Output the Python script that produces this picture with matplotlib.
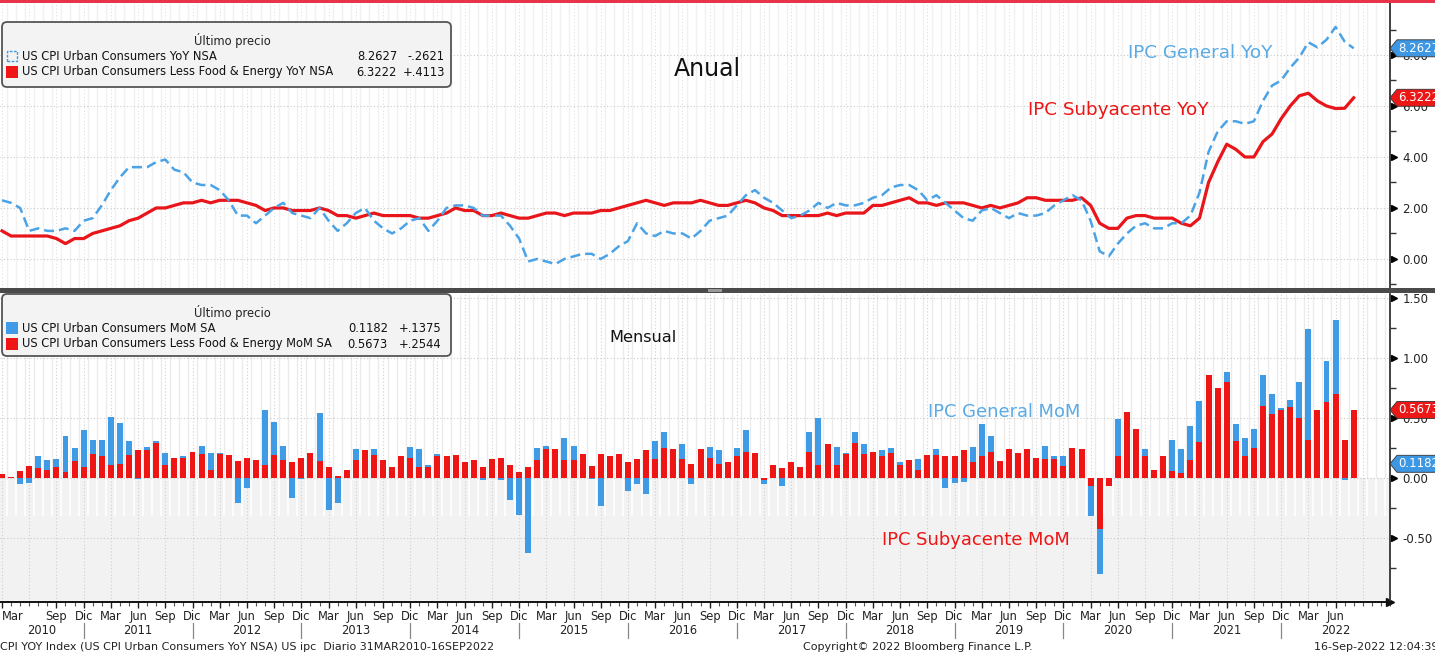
import numpy as np
import matplotlib
matplotlib.use('Agg')
import matplotlib.pyplot as plt
import matplotlib.transforms as mtransforms
from matplotlib.patches import FancyBboxPatch, Polygon, Rectangle

plt.rcParams['font.family'] = ['DejaVu Sans']

# ---------------- data (monthly, Mar 2010 .. Aug 2022) ----------------
yoy_headline = [
    2.3, 2.2, 2.0, 1.1, 1.2, 1.1, 1.1, 1.2, 1.1, 1.5,
    1.6, 2.1, 2.7, 3.2, 3.6, 3.6, 3.6, 3.8, 3.9, 3.5, 3.4, 3.0,
    2.9, 2.9, 2.7, 2.3, 1.7, 1.7, 1.4, 1.7, 2.0, 2.2, 1.8, 1.7,
    1.6, 2.0, 1.5, 1.1, 1.4, 1.8, 2.0, 1.5, 1.2, 1.0, 1.2, 1.5,
    1.6, 1.1, 1.5, 2.0, 2.1, 2.1, 2.0, 1.7, 1.7, 1.7, 1.3, 0.8,
    -0.1, 0.0, -0.1, -0.2, 0.0, 0.1, 0.2, 0.2, 0.0, 0.2, 0.5, 0.7,
    1.4, 1.0, 0.9, 1.1, 1.0, 1.0, 0.8, 1.1, 1.5, 1.6, 1.7, 2.1,
    2.5, 2.7, 2.4, 2.2, 1.9, 1.6, 1.7, 1.9, 2.2, 2.0, 2.2, 2.1,
    2.1, 2.2, 2.4, 2.5, 2.8, 2.9, 2.9, 2.7, 2.3, 2.5, 2.2, 1.9,
    1.6, 1.5, 1.9, 2.0, 1.8, 1.6, 1.8, 1.7, 1.7, 1.8, 2.1, 2.3,
    2.5, 2.3, 1.5, 0.3, 0.1, 0.6, 1.0, 1.3, 1.4, 1.2, 1.2, 1.4,
    1.4, 1.7, 2.6, 4.2, 5.0, 5.4, 5.4, 5.3, 5.4, 6.2, 6.8, 7.0,
    7.5, 7.9, 8.5, 8.3, 8.6, 9.1, 8.5248, 8.2627,
]
yoy_core = [
    1.1, 0.9, 0.9, 0.9, 0.9, 0.9, 0.8, 0.6, 0.8, 0.8,
    1.0, 1.1, 1.2, 1.3, 1.5, 1.6, 1.8, 2.0, 2.0, 2.1, 2.2, 2.2,
    2.3, 2.2, 2.3, 2.3, 2.3, 2.2, 2.1, 1.9, 2.0, 2.0, 1.9, 1.9,
    1.9, 2.0, 1.9, 1.7, 1.7, 1.6, 1.7, 1.8, 1.7, 1.7, 1.7, 1.7,
    1.6, 1.6, 1.7, 1.8, 2.0, 1.9, 1.9, 1.7, 1.7, 1.8, 1.7, 1.6,
    1.6, 1.7, 1.8, 1.8, 1.7, 1.8, 1.8, 1.8, 1.9, 1.9, 2.0, 2.1,
    2.2, 2.3, 2.2, 2.1, 2.2, 2.2, 2.2, 2.3, 2.2, 2.1, 2.1, 2.2,
    2.3, 2.2, 2.0, 1.9, 1.7, 1.7, 1.7, 1.7, 1.7, 1.8, 1.7, 1.8,
    1.8, 1.8, 2.1, 2.1, 2.2, 2.3, 2.4, 2.2, 2.2, 2.1, 2.2, 2.2,
    2.2, 2.1, 2.0, 2.1, 2.0, 2.1, 2.2, 2.4, 2.4, 2.3, 2.3, 2.3,
    2.3, 2.4, 2.1, 1.4, 1.2, 1.2, 1.6, 1.7, 1.7, 1.6, 1.6, 1.6,
    1.4, 1.3, 1.6, 3.0, 3.8, 4.5, 4.3, 4.0, 4.0, 4.6, 4.9, 5.5,
    6.0, 6.4, 6.5, 6.2, 6.0, 5.9, 5.9109, 6.3222,
]
mom_core = [
    0.03, 0.01, 0.06, 0.10, 0.08, 0.07, 0.09, 0.05, 0.14, 0.09,
    0.20, 0.18, 0.11, 0.12, 0.19, 0.23, 0.23, 0.29, 0.11, 0.17, 0.17, 0.22,
    0.20, 0.07, 0.20, 0.19, 0.14, 0.17, 0.15, 0.11, 0.19, 0.15, 0.13, 0.17,
    0.21, 0.14, 0.09, 0.02, 0.07, 0.15, 0.23, 0.19, 0.15, 0.09, 0.18, 0.17,
    0.09, 0.09, 0.18, 0.18, 0.19, 0.13, 0.15, 0.09, 0.16, 0.17, 0.11, 0.05,
    0.09, 0.15, 0.24, 0.24, 0.15, 0.15, 0.20, 0.10, 0.20, 0.18, 0.20, 0.13,
    0.16, 0.23, 0.16, 0.25, 0.24, 0.16, 0.12, 0.24, 0.17, 0.12, 0.13, 0.18,
    0.22, 0.21, -0.02, 0.11, 0.08, 0.13, 0.09, 0.22, 0.11, 0.28, 0.11, 0.20,
    0.29, 0.20, 0.22, 0.18, 0.21, 0.11, 0.15, 0.07, 0.19, 0.19, 0.18, 0.18,
    0.23, 0.13, 0.18, 0.22, 0.14, 0.24, 0.21, 0.24, 0.17, 0.16, 0.16, 0.10,
    0.25, 0.24, -0.07, -0.43, -0.07, 0.18, 0.55, 0.41, 0.18, 0.07, 0.18, 0.06,
    0.04, 0.15, 0.30, 0.86, 0.75, 0.80, 0.31, 0.18, 0.25, 0.60, 0.53, 0.57,
    0.59, 0.50, 0.32, 0.57, 0.63, 0.70, 0.3129, 0.5673,
]
mom_headline = [
    0.00, 0.00, -0.05, -0.04, 0.18, 0.15, 0.16, 0.35, 0.25, 0.40,
    0.32, 0.32, 0.51, 0.46, 0.31, -0.01, 0.26, 0.31, 0.21, 0.10, 0.18, 0.10,
    0.27, 0.21, 0.21, 0.10, -0.21, -0.08, 0.02, 0.57, 0.47, 0.27, -0.17, -0.01,
    0.15, 0.54, -0.27, -0.21, 0.05, 0.24, 0.20, 0.24, 0.10, 0.05, 0.15, 0.26,
    0.24, 0.11, 0.20, 0.15, 0.15, 0.10, 0.10, -0.02, 0.10, -0.02, -0.18, -0.31,
    -0.63, 0.25, 0.27, 0.15, 0.33, 0.27, 0.15, -0.01, -0.23, 0.15, 0.10, -0.11,
    -0.05, -0.13, 0.31, 0.38, 0.20, 0.28, -0.05, 0.15, 0.26, 0.23, 0.10, 0.25,
    0.40, 0.15, -0.05, 0.08, -0.07, 0.10, 0.05, 0.38, 0.50, 0.10, 0.26, 0.21,
    0.38, 0.28, 0.10, 0.23, 0.25, 0.13, 0.10, 0.16, 0.10, 0.24, -0.08, -0.04,
    -0.03, 0.26, 0.45, 0.35, 0.10, 0.10, 0.15, 0.10, 0.15, 0.27, 0.18, 0.18,
    0.15, 0.10, -0.32, -0.80, -0.04, 0.49, 0.50, 0.35, 0.24, 0.04, 0.15, 0.32,
    0.24, 0.43, 0.64, 0.77, 0.64, 0.88, 0.45, 0.33, 0.41, 0.86, 0.70, 0.58,
    0.65, 0.80, 1.24, 0.33, 0.98, 1.32, -0.0193, 0.1182,
]
quarter_names = ['Mar', 'Jun', 'Sep', 'Dic']
years = list(range(2010, 2023))
legend_top = [('US CPI Urban Consumers YoY NSA', '8.2627', '-.2621'),
              ('US CPI Urban Consumers Less Food & Energy YoY NSA', '6.3222', '+.4113')]
legend_bot = [('US CPI Urban Consumers MoM SA', '0.1182', '+.1375'),
              ('US CPI Urban Consumers Less Food & Energy MoM SA', '0.5673', '+.2544')]

BLUE = '#3f9be6'
BLUE_TXT = '#5aaae6'
RED = '#ee1515'

W, H = 1435, 655
fig = plt.figure(figsize=(W / 100, H / 100), dpi=100)
fig.patch.set_facecolor('white')


def fy(py):
    return 1 - py / H


XL = (-0.22, 153.0)
ax1 = fig.add_axes([0, fy(288), 1390 / W, (288 - 3) / H])
ax2 = fig.add_axes([0, fy(602), 1390 / W, (602 - 294) / H])
ax1.set_ylim(-1.14, 10.04)
ax2.set_ylim(-1.035, 1.535)
n = len(yoy_headline)
x = np.arange(n)

for ax in (ax1, ax2):
    ax.set_xlim(*XL)
    ax.set_facecolor('white')
    for s in ('left', 'top'):
        ax.spines[s].set_visible(False)
    ax.spines['right'].set_color('#333333')
    ax.spines['right'].set_linewidth(1.3)
    ax.yaxis.tick_right()
    ax.tick_params(axis='y', which='major', length=0, pad=9, labelsize=8.5, colors='#222222')
    ax.tick_params(axis='y', which='minor', length=4, width=1, color='#333333', direction='out')

ax2.axhspan(-1.035, 0, color='#f2f2f2', zorder=0, lw=0)
months = np.arange(-1, 154) + 0.5
ax1.vlines(months, -1.14, 10.04, color='#f1f1f1', lw=1, zorder=0.1)
ax2.vlines(months, 0, 1.535, color='#ebebeb', lw=1, zorder=0.1)
ax2.vlines(months, -0.32, 0, color='white', lw=1.2, zorder=0.1)
qpos = np.arange(0, 154, 3)
ax1.vlines(qpos, -1.14, 10.04, color='#d8d8d8', lw=0.7, linestyles=(0, (1, 2.5)), zorder=0.2)
ax2.vlines(qpos, -1.035, 1.535, color='#cfcfcf', lw=0.8, linestyles=(0, (1, 2)), zorder=0.2)

# y ticks
t1 = [0, 2, 4, 6, 8]
ax1.set_yticks(t1)
ax1.set_yticks([-1, 1, 3, 5, 7, 9], minor=True)
ax1.set_yticklabels([f'{v:.2f}' for v in t1])
t2 = [-0.5, 0, 0.5, 1.0, 1.5]
ax2.set_yticks(t2)
ax2.set_yticks([-0.75, -0.25, 0.25, 0.75, 1.25], minor=True)
ax2.set_yticklabels([f'{v:.2f}' for v in t2])
for ax, ticks in ((ax1, t1), (ax2, t2)):
    for v in ticks:
        ax.axhline(v, color='#c9c9c9', lw=0.8, ls=(0, (1, 2)), zorder=0.2)
    tr = mtransforms.offset_copy(mtransforms.blended_transform_factory(ax.transAxes, ax.transData),
                                 fig=fig, x=4, y=0, units='dots')
    ax.plot([1.0] * len(ticks), ticks, ls='none', marker='>', ms=5, color='black',
            transform=tr, clip_on=False)

# ---- top panel lines ----
ax1.plot(x, yoy_core, color='#e8161b', lw=2.3, zorder=3)
ax1.plot(x, yoy_headline, color='#4ba3e6', lw=1.8, ls=(0, (4, 2)), zorder=4)
ax1.set_xticks([])
ax1.spines['bottom'].set_visible(False)

ax1.text(77.7, 7.45, 'Anual', fontsize=17, ha='center', va='center', color='#111111')
ax1.text(124.1, 8.08, 'IPC General YoY', fontsize=13.2, ha='left', va='center', color=BLUE_TXT)
ax1.text(113.1, 5.84, 'IPC Subyacente YoY', fontsize=13.2, ha='left', va='center', color=RED)

# ---- bottom panel bars ----
ax2.bar(x, mom_headline, width=0.66, color=BLUE, zorder=2, lw=0)
ax2.bar(x, mom_core, width=0.66, color=RED, zorder=3, lw=0)
ax2.text(67.0, 1.175, 'Mensual', fontsize=11.6, ha='left', va='center', color='#111111')
ax2.text(102.1, 0.55, 'IPC General MoM', fontsize=12.9, ha='left', va='center', color=BLUE_TXT)
ax2.text(97.0, -0.517, 'IPC Subyacente MoM', fontsize=12.9, ha='left', va='center', color=RED)

ax2.spines['bottom'].set_color('#111111')
ax2.spines['bottom'].set_linewidth(1.4)
ax2.plot(1.0, 0, marker='>', ms=6, color='#111111', transform=ax2.transAxes, clip_on=False)

# x ticks
tick_pos = [p for p in range(0, n, 3) if p != 3]
tick_lab = [quarter_names[(p // 3) % 4] for p in tick_pos]
ax2.set_xticks(tick_pos)
ax2.set_xticklabels(tick_lab)
ax2.set_xticks(np.arange(0, 154), minor=True)
ax2.tick_params(axis='x', which='major', length=4, width=1, pad=2, labelsize=8.3, colors='#222222')
ax2.tick_params(axis='x', which='minor', length=3, width=0.8, color='#555555')
ax2.get_xticklabels()[0].set_ha('left')

btr = mtransforms.blended_transform_factory(ax2.transData, ax2.transAxes)
for i, yr in enumerate(years):
    if i == 0:
        c = (XL[0] + 9) / 2
    else:
        c = 9 + 12 * (i - 1) + 6
    ax2.text(c, -28 / 308, str(yr), transform=btr, ha='center', va='center', fontsize=8.3,
             color='#222222', clip_on=False)
    if i > 0:
        sep = 9 + 12 * (i - 1)
        ax2.plot([sep, sep], [-21 / 308, -36 / 308], color='#888888', lw=0.9,
                 transform=btr, clip_on=False)

# ---- value tags on right axis ----
def tag(ax, val, text, color):
    yd = ax.transData.transform((0, val))[1]
    pts = [(1390, yd), (1397, yd + 8.5), (1440, yd + 8.5), (1440, yd - 8.5), (1397, yd - 8.5)]
    fig.add_artist(Polygon(pts, closed=True, facecolor=color, edgecolor='#333333', lw=0.6,
                           transform=mtransforms.IdentityTransform(), zorder=10))
    fig.text(1398 / W, yd / H, text, color='white', fontsize=8.5, ha='left', va='center', zorder=11)


tag(ax1, 8.2627, '8.2627', '#3d97e3')
tag(ax1, 6.3222, '6.3222', '#ec1717')
tag(ax2, 0.5673, '0.5673', '#ec1717')
tag(ax2, 0.1182, '0.1182', '#3d97e3')

# ---- legends ----
def legend(top, bottom, rows, hollow_first, val_r, chg_r):
    fig.add_artist(FancyBboxPatch((2, H - bottom), 449, bottom - top,
                                  boxstyle='round,pad=0,rounding_size=5',
                                  facecolor='#f3f3f3', edgecolor='#555555', lw=1.3,
                                  transform=mtransforms.IdentityTransform(), zorder=8))
    fig.text(232 / W, fy(top + 18), 'Último precio', fontsize=8.3, ha='center', va='center',
             color='#222222', zorder=9)
    for k, (lab, val, chg) in enumerate(rows):
        yy = top + 34 + 16 * k
        colr = BLUE if k == 0 else RED
        if k == 0 and hollow_first:
            fig.add_artist(Rectangle((7, H - yy - 5), 10, 10, fill=False, edgecolor=colr, lw=1,
                                     ls=(0, (2, 1)), transform=mtransforms.IdentityTransform(),
                                     zorder=9))
        else:
            fig.add_artist(Rectangle((6, H - yy - 6), 12, 12, facecolor=colr, lw=0,
                                     transform=mtransforms.IdentityTransform(), zorder=9))
        fig.text(22 / W, fy(yy), lab, fontsize=8.3, ha='left', va='center', color='#111111', zorder=9)
        fig.text(val_r / W, fy(yy), val, fontsize=8.3, ha='right', va='center', color='#111111', zorder=9)
        fig.text(chg_r / W, fy(yy), chg, fontsize=8.3, ha='right', va='center', color='#111111', zorder=9)


legend(22, 87, legend_top, True, 397, 445)
legend(294, 356, legend_bot, False, 388, 441)

# ---- frame decorations ----
fig.add_artist(Rectangle((0, H - 2.5), W, 2.5, facecolor='#e8334a', lw=0,
                         transform=mtransforms.IdentityTransform(), zorder=12))
fig.add_artist(Rectangle((0, H - 293), W, 5, facecolor='#4a4a4a', lw=0,
                         transform=mtransforms.IdentityTransform(), zorder=12))
fig.add_artist(Rectangle((708, H - 292), 14, 3, facecolor='#9a9a9a', lw=0,
                         transform=mtransforms.IdentityTransform(), zorder=13))

fig.text(0, fy(647), 'CPI YOY Index (US CPI Urban Consumers YoY NSA) US ipc  Diario 31MAR2010-16SEP2022',
         fontsize=8, ha='left', va='center', color='#222222')
fig.text(918 / W, fy(647), 'Copyright\u00a9 2022 Bloomberg Finance L.P.', fontsize=8,
         ha='center', va='center', color='#222222')
fig.text(1438 / W, fy(647), '16-Sep-2022 12:04:39', fontsize=8, ha='right', va='center',
         color='#222222')

fig.savefig('out.png', dpi=100, facecolor='white')
